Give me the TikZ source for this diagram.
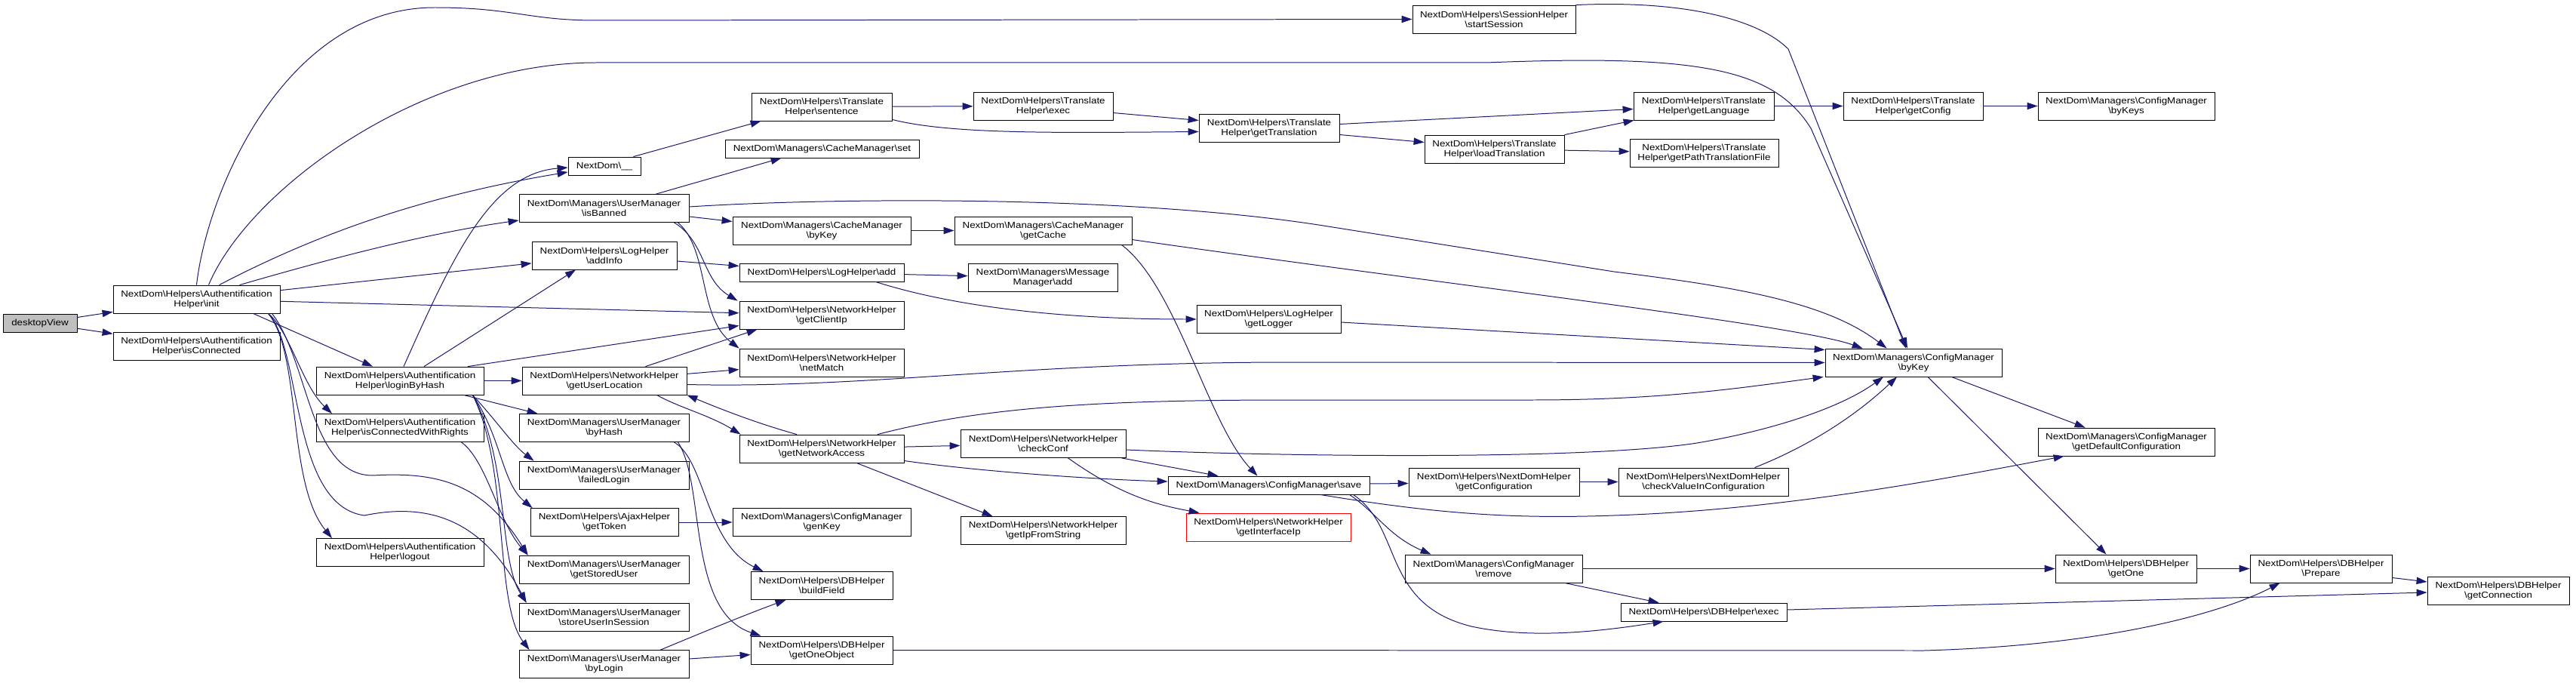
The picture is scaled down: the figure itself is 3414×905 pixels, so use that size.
\documentclass[tikz,border=0pt]{standalone}
\usepackage{fontspec}
\setmainfont{Liberation Sans}[FakeStretch=1.14]
\usepackage{tikz}
\usetikzlibrary{arrows.meta,calc}
\definecolor{edgeblue}{RGB}{25,25,112}
\definecolor{startgray}{RGB}{191,191,191}
\newcommand{\nbs}{\textbackslash}

\begin{document}
\begin{tikzpicture}[x=0.03cm,y=-0.03cm,
    fn/.style={draw=black,line width=0.7pt,fill=white,inner sep=0pt,align=center,
               minimum height=37*0.03cm,font=\fontsize{10}{11.1}\selectfont},
    fn1/.style={fn,minimum height=24*0.03cm},
    bw/.style={minimum width=#1*0.03cm},
    call/.style={draw=edgeblue,line width=0.85pt,-{Triangle[length=4.2mm,width=2.8mm]}}]
  \useasboundingbox (0,0) rectangle (3414,905);

  \node[fn1,bw=98,fill=startgray] (desktop) at (53,428) {desktopView};
  \node[fn,bw=221] (ainit) at (260.5,396.5) {NextDom\nbs Helpers\nbs Authentification\\Helper\nbs init};
  \node[fn,bw=221] (aconn) at (260.5,458.5) {NextDom\nbs Helpers\nbs Authentification\\Helper\nbs isConnected};
  \node[fn,bw=222] (alogin) at (530,504.5) {NextDom\nbs Helpers\nbs Authentification\\Helper\nbs loginByHash};
  \node[fn,bw=222] (arights) at (530,567) {NextDom\nbs Helpers\nbs Authentification\\Helper\nbs isConnectedWithRights};
  \node[fn,bw=222] (alogout) at (530,732) {NextDom\nbs Helpers\nbs Authentification\\Helper\nbs logout};

  \node[fn1,bw=96] (ndgettext) at (801,220) {NextDom\nbs\_\_};
  \node[fn,bw=225] (isbanned) at (800.5,276) {NextDom\nbs Managers\nbs UserManager\\\nbs isBanned};
  \node[fn,bw=192] (addinfo) at (801,338.5) {NextDom\nbs Helpers\nbs LogHelper\\\nbs addInfo};
  \node[fn,bw=218] (userloc) at (801,504.5) {NextDom\nbs Helpers\nbs NetworkHelper\\\nbs getUserLocation};
  \node[fn,bw=225] (byhash) at (800.5,567) {NextDom\nbs Managers\nbs UserManager\\\nbs byHash};
  \node[fn,bw=225] (failedlogin) at (800.5,629.5) {NextDom\nbs Managers\nbs UserManager\\\nbs failedLogin};
  \node[fn,bw=196] (gettoken) at (801,692) {NextDom\nbs Helpers\nbs AjaxHelper\\\nbs getToken};
  \node[fn,bw=225] (storeduser) at (800.5,754.5) {NextDom\nbs Managers\nbs UserManager\\\nbs getStoredUser};
  \node[fn,bw=225] (storesession) at (800.5,817.5) {NextDom\nbs Managers\nbs UserManager\\\nbs storeUserInSession};
  \node[fn,bw=225] (bylogin) at (800.5,880) {NextDom\nbs Managers\nbs UserManager\\\nbs byLogin};

  \node[fn,bw=186] (sentence) at (1089,141.5) {NextDom\nbs Helpers\nbs Translate\\Helper\nbs sentence};
  \node[fn1,bw=257] (cacheset) at (1089.5,197) {NextDom\nbs Managers\nbs CacheManager\nbs set};
  \node[fn,bw=236] (cachebykey) at (1089,305.5) {NextDom\nbs Managers\nbs CacheManager\\\nbs byKey};
  \node[fn1,bw=218] (logadd) at (1089,361) {NextDom\nbs Helpers\nbs LogHelper\nbs add};
  \node[fn,bw=218] (clientip) at (1089,417.5) {NextDom\nbs Helpers\nbs NetworkHelper\\\nbs getClientIp};
  \node[fn,bw=218] (netmatch) at (1089,480.5) {NextDom\nbs Helpers\nbs NetworkHelper\\\nbs netMatch};
  \node[fn,bw=218] (netaccess) at (1089,594.5) {NextDom\nbs Helpers\nbs NetworkHelper\\\nbs getNetworkAccess};
  \node[fn,bw=236] (genkey) at (1089,692) {NextDom\nbs Managers\nbs ConfigManager\\\nbs genKey};
  \node[fn,bw=188] (buildfield) at (1089,776) {NextDom\nbs Helpers\nbs DBHelper\\\nbs buildField};
  \node[fn,bw=188] (getoneobj) at (1089,861.5) {NextDom\nbs Helpers\nbs DBHelper\\\nbs getOneObject};

  \node[fn,bw=185] (trexec) at (1382.5,140.5) {NextDom\nbs Helpers\nbs Translate\\Helper\nbs exec};
  \node[fn,bw=235] (getcache) at (1382.5,305.5) {NextDom\nbs Managers\nbs CacheManager\\\nbs getCache};
  \node[fn,bw=198] (msgadd) at (1382,368) {NextDom\nbs Managers\nbs Message\\Manager\nbs add};
  \node[fn,bw=219] (checkconf) at (1382.5,588) {NextDom\nbs Helpers\nbs NetworkHelper\\\nbs checkConf};
  \node[fn,bw=219] (ipfromstr) at (1382.5,703) {NextDom\nbs Helpers\nbs NetworkHelper\\\nbs getIpFromString};

  \node[fn,bw=186] (gettrans) at (1682,169.5) {NextDom\nbs Helpers\nbs Translate\\Helper\nbs getTranslation};
  \node[fn,bw=191] (getlogger) at (1681.5,423) {NextDom\nbs Helpers\nbs LogHelper\\\nbs getLogger};
  \node[fn1,bw=267] (cfgsave) at (1681.5,643) {NextDom\nbs Managers\nbs ConfigManager\nbs save};
  \node[fn,bw=218,draw=red] (ifaceip) at (1681,698.5) {NextDom\nbs Helpers\nbs NetworkHelper\\\nbs getInterfaceIp};

  \node[fn,bw=216] (startsession) at (1980,25.5) {NextDom\nbs Helpers\nbs SessionHelper\\\nbs startSession};
  \node[fn,bw=185] (loadtrans) at (1980.5,197.5) {NextDom\nbs Helpers\nbs Translate\\Helper\nbs loadTranslation};
  \node[fn,bw=226] (getconfiguration) at (1980,638.5) {NextDom\nbs Helpers\nbs NextDomHelper\\\nbs getConfiguration};
  \node[fn,bw=235] (cfgremove) at (1979.5,753.5) {NextDom\nbs Managers\nbs ConfigManager\\\nbs remove};

  \node[fn,bw=186] (getlang) at (2258,140.5) {NextDom\nbs Helpers\nbs Translate\\Helper\nbs getLanguage};
  \node[fn,bw=197] (getpath) at (2258.5,202.5) {NextDom\nbs Helpers\nbs Translate\\Helper\nbs getPathTranslationFile};
  \node[fn,bw=225] (checkvalue) at (2257.5,638.5) {NextDom\nbs Helpers\nbs NextDomHelper\\\nbs checkValueInConfiguration};
  \node[fn1,bw=220] (dbexec) at (2258,811) {NextDom\nbs Helpers\nbs DBHelper\nbs exec};

  \node[fn,bw=234] (cfgbykey) at (2536,480.5) {NextDom\nbs Managers\nbs ConfigManager\\\nbs byKey};
  \node[fn,bw=185] (getconfig) at (2535.5,140.5) {NextDom\nbs Helpers\nbs Translate\\Helper\nbs getConfig};
  \node[fn,bw=234] (bykeys) at (2818,140.5) {NextDom\nbs Managers\nbs ConfigManager\\\nbs byKeys};
  \node[fn,bw=234] (defaultcfg) at (2818,585.5) {NextDom\nbs Managers\nbs ConfigManager\\\nbs getDefaultConfiguration};
  \node[fn,bw=187] (getone) at (2817.5,753.5) {NextDom\nbs Helpers\nbs DBHelper\\\nbs getOne};
  \node[fn,bw=188] (prepare) at (3076,753.5) {NextDom\nbs Helpers\nbs DBHelper\\\nbs Prepare};
  \node[fn,bw=188] (getconn) at (3311,783) {NextDom\nbs Helpers\nbs DBHelper\\\nbs getConnection};

  % entry point and init
  \draw[call] (desktop) -- (ainit);
  \draw[call] (desktop) -- (aconn);
  \draw[call] (ainit.north) .. controls (275,250) and (380,10) .. (576,10) .. controls (680,10) and (700,27) .. (790,27) -- (startsession.west);
  \draw[call] ($(ainit.north)+(16,0)$) .. controls (330,250) and (560,83) .. (790,83) -- (1970,83) .. controls (2250,72) and (2350,90) .. (2400,170) -- ($(cfgbykey.north)+(-8,0)$);
  \draw[call] (startsession.north east) .. controls (2230,0) and (2330,25) .. (2370,65) -- ($(cfgbykey.north)+(-10,0)$);
  \draw[call] ($(ainit.north)+(30,0)$) .. controls (420,310) and (560,260) .. ($(ndgettext.west)+(0,8)$);
  \draw[call] ($(ainit.north)+(57,0)$) .. controls (430,345) and (560,310) .. ($(isbanned.west)+(0,16)$);
  \draw[call] (ainit) -- (addinfo);
  \draw[call] (ainit) -- (clientip);
  \draw[call] ($(ainit.south)+(75,0)$) -- ($(alogin.north)+(-36,0)$);
  \draw[call] ($(ainit.south)+(95,0)$) .. controls (385,440) and (400,510) .. ($(arights.north)+(-90,0)$);
  \draw[call] ($(ainit.south)+(95,0)$) .. controls (400,470) and (380,640) .. ($(alogout.north)+(-90,0)$);
  \draw[call] ($(ainit.south)+(100,0)$) .. controls (410,480) and (410,630) .. (494,630) .. controls (580,625) and (640,640) .. ($(storeduser.north west)+(12,0)$);
  \draw[call] ($(ainit.south)+(95,0)$) .. controls (400,460) and (385,670) .. (483,683) .. controls (570,665) and (640,690) .. ($(storesession.north west)+(10,0)$);
  \draw[call] ($(arights.south east)+(-30,0)$) .. controls (645,610) and (660,690) .. ($(storeduser.north west)+(12,0)$);

  % loginByHash
  \draw[call] ($(alogin.north)+(5,0)$) .. controls (600,340) and (650,230) .. ($(ndgettext.west)+(0,2)$);
  \draw[call] (alogin) -- (userloc);
  \draw[call] ($(alogin.north)+(90,0)$) -- ($(clientip.west)+(0,14)$);
  \draw[call] ($(alogin.north)+(32,0)$) -- ($(addinfo.south)+(-38,0)$);
  \draw[call] ($(alogin.south east)+(-27,0)$) -- ($(byhash.north west)+(25,0)$);
  \draw[call] ($(alogin.south east)+(-15,0)$) .. controls (660,560) and (680,590) .. ($(failedlogin.north west)+(20,0)$);
  \draw[call] ($(alogin.south east)+(-15,0)$) .. controls (665,580) and (665,640) .. ($(gettoken.north west)+(3,0)$);
  \draw[call] ($(alogin.south east)+(-15,0)$) .. controls (675,610) and (660,740) .. ($(storesession.north west)+(10,0)$);
  \draw[call] ($(alogin.south east)+(-15,0)$) .. controls (675,620) and (655,800) .. ($(bylogin.north west)+(14,0)$);

  % user manager
  \draw[call] ($(isbanned.north east)+(-44,0)$) -- ($(cacheset.south west)+(75,0)$);
  \draw[call] ($(isbanned.east)+(0,-2)$) .. controls (1100,262) and (1500,258) .. (1760,300) -- (2139,360) .. controls (2300,380) and (2420,400) .. ($(cfgbykey.north west)+(82,0)$);
  \draw[call] ($(isbanned.east)+(0,11)$) -- ($(cachebykey.west)+(0,-12)$);
  \draw[call] ($(isbanned.south east)+(-20,0)$) .. controls (935,320) and (930,370) .. ($(clientip.north west)+(-2,0)$);
  \draw[call] ($(isbanned.south east)+(-15,0)$) .. controls (940,330) and (925,420) .. (netmatch.north west);
  \draw[call] ($(byhash.south east)+(-20,0)$) .. controls (935,610) and (935,720) .. ($(buildfield.north west)+(17,0)$);
  \draw[call] ($(byhash.south east)+(-15,0)$) .. controls (935,640) and (910,810) .. ($(getoneobj.north west)+(14,0)$);
  \draw[call] ($(bylogin.north east)+(-38,0)$) .. controls (950,830) and (1000,810) .. ($(buildfield.south west)+(47,0)$);
  \draw[call] ($(bylogin.east)+(0,-7)$) -- ($(getoneobj.west)+(0,6)$);
  \draw[call] (gettoken) -- (genkey);

  % log and network helpers
  \draw[call] (addinfo) -- (logadd);
  \draw[call] (logadd) -- (msgadd);
  \draw[call] ($(logadd.south east)+(-38,0)$) .. controls (1260,405) and (1400,423) .. (getlogger.west);
  \draw[call] ($(getlogger.east)+(0,4)$) -- ($(cfgbykey.west)+(0,-17)$);
  \draw[call] ($(userloc.north east)+(-55,0)$) -- ($(clientip.south west)+(24,0)$);
  \draw[call] (userloc) -- (netmatch);
  \draw[call] ($(userloc.east)+(0,5)$) .. controls (1150,515) and (1350,480) .. (1710,480) -- (cfgbykey.west);
  \draw[call] ($(userloc.south east)+(-40,0)$) .. controls (900,540) and (940,550) .. ($(netaccess.north west)+(2,0)$);
  \draw[call] ($(netaccess.north)+(-33,0)$) .. controls (1000,560) and (950,540) .. (userloc.south east);
  \draw[call] ($(netaccess.north)+(74,0)$) .. controls (1300,540) and (1450,530) .. (1710,530) -- (2030,530) .. controls (2200,530) and (2300,515) .. ($(cfgbykey.south west)+(-2,0)$);
  \draw[call] (netaccess) -- (checkconf);
  \draw[call] ($(netaccess.east)+(0,16)$) .. controls (1300,625) and (1450,635) .. ($(cfgsave.west)+(0,-5)$);
  \draw[call] ($(netaccess.south)+(46,0)$) -- ($(ipfromstr.north west)+(43,0)$);
  \draw[call] ($(checkconf.east)+(0,8)$) .. controls (1700,605) and (2100,610) .. (2249,587) .. controls (2350,570) and (2440,540) .. ($(cfgbykey.south)+(-40,0)$);
  \draw[call] ($(checkconf.south east)+(-6,0)$) -- ($(cfgsave.north west)+(67,0)$);
  \draw[call] ($(checkconf.south)+(33,0)$) .. controls (1490,660) and (1540,670) .. ($(ifaceip.north west)+(18,0)$);

  % cache manager
  \draw[call] (cachebykey) -- (getcache);
  \draw[call] ($(getcache.east)+(0,12)$) .. controls (1900,375) and (2380,430) .. ($(cfgbykey.north west)+(50,0)$);
  \draw[call] ($(getcache.south east)+(-14,0)$) .. controls (1560,380) and (1600,560) .. ($(cfgsave.north)+(-15,0)$);

  % translate helper
  \draw[call] ($(ndgettext.north east)+(-10,0)$) -- ($(sentence.south west)+(13,0)$);
  \draw[call] (sentence) -- (trexec);
  \draw[call] ($(sentence.south east)+(0,-2)$) .. controls (1260,178) and (1400,176) .. ($(gettrans.west)+(0,5)$);
  \draw[call] ($(trexec.east)+(0,9)$) -- ($(gettrans.west)+(0,-10)$);
  \draw[call] ($(gettrans.east)+(0,-5)$) -- ($(getlang.west)+(0,4)$);
  \draw[call] ($(gettrans.east)+(0,9)$) -- ($(loadtrans.west)+(0,-9)$);
  \draw[call] (loadtrans.north east) -- ($(getlang.south west)+(1,0)$);
  \draw[call] (loadtrans) -- (getpath);
  \draw[call] (getlang) -- (getconfig);
  \draw[call] (getconfig) -- (bykeys);

  % config manager and db helper
  \draw[call] ($(cfgbykey.south east)+(-67,0)$) -- ($(defaultcfg.north west)+(63,0)$);
  \draw[call] ($(cfgbykey.south)+(19,0)$) -- ($(getone.north)+(-26,0)$);
  \draw[call] ($(cfgsave.east)+(0,-2)$) -- ($(getconfiguration.west)+(0,2)$);
  \draw[call] ($(cfgsave.south)+(68,0)$) .. controls (1900,680) and (2000,688) .. (2139,683) .. controls (2350,676) and (2550,640) .. ($(defaultcfg.south west)+(35,0)$);
  \draw[call] ($(cfgsave.south east)+(-27,0)$) .. controls (1825,680) and (1840,710) .. ($(cfgremove.north west)+(35,0)$);
  \draw[call] ($(cfgsave.south east)+(-22,0)$) .. controls (1860,700) and (1830,800) .. (1950,830) .. controls (2020,845) and (2100,840) .. ($(dbexec.south west)+(57,0)$);
  \draw[call] (getconfiguration) -- (checkvalue);
  \draw[call] ($(checkvalue.north east)+(-45,0)$) .. controls (2400,590) and (2460,550) .. ($(cfgbykey.south)+(-22,0)$);
  \draw[call] (cfgremove) -- (getone);
  \draw[call] ($(cfgremove.south east)+(-24,0)$) -- ($(dbexec.north west)+(51,0)$);
  \draw[call] ($(dbexec.east)+(0,-3)$) -- ($(getconn.west)+(0,2)$);
  \draw[call] (getone) -- (prepare);
  \draw[call] ($(prepare.east)+(0,12)$) -- ($(getconn.west)+(0,-12)$);
  \draw[call] (getoneobj.east) -- (2550,862) .. controls (2800,855) and (2950,810) .. ($(prepare.south west)+(40,0)$);
\end{tikzpicture}
\end{document}
